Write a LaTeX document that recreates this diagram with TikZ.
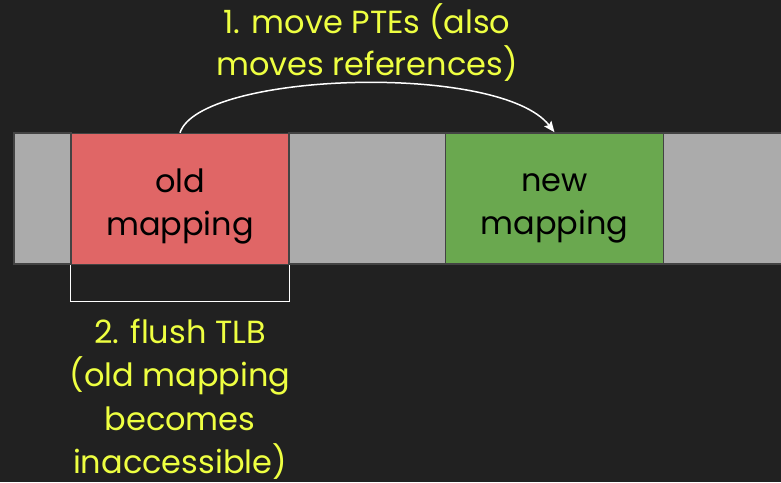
\documentclass[tikz,border=0pt]{standalone}
\usepackage{fontspec}
\setmainfont{Poppins}
\usetikzlibrary{arrows.meta}
\definecolor{bg}{HTML}{212121}
\definecolor{cellgray}{HTML}{ABABAB}
\definecolor{edge}{HTML}{434343}
\definecolor{oldred}{HTML}{E06666}
\definecolor{newgreen}{HTML}{6AA84F}
\definecolor{note}{HTML}{EEFF41}
% struts that centre a two-line label on a fixed pair of baselines
\newcommand\upstrut{\rule{0pt}{41pt}}
\newcommand\downstrut{\rule[-12pt]{0pt}{12pt}}
\tikzset{
  cell/.style={draw=edge, line width=1.5pt, fill=cellgray},
  mapbox/.style={draw=edge, line width=1.5pt, inner sep=0pt, align=center,
    minimum width=218pt, minimum height=131pt, text=black,
    font=\fontsize{32}{43}\selectfont},
  notetext/.style={text=note, align=center, inner sep=0pt, anchor=base},
  wire/.style={draw=white, line width=1.5pt},
}
\begin{document}
\begin{tikzpicture}[x=1pt,y=-1pt]
  % canvas
  \fill[bg] (0,0) rectangle (781,482);
  \useasboundingbox (0,0) rectangle (781,482);

  % address range strip
  \draw[cell] (14,133) rectangle (71,264);
  \draw[cell] (289,133) rectangle (446,264);
  \draw[cell] (663,133) rectangle (790,264);

  % the two mappings
  \node[mapbox, fill=oldred] (old) at (180,199) {\upstrut old\\mapping\downstrut};
  \node[mapbox, fill=newgreen] (new) at (554.5,198.5) {\upstrut new\\mapping\downstrut};

  % step 1: move the page table entries
  \draw[wire, -{Stealth[length=11pt, width=9pt, inset=2pt]}]
    (old.north) .. controls (200,72) and (500,62) .. (new.north);
  \node[notetext, font=\fontsize{32}{42}\selectfont] (step1) at (367,75)
    {1. move PTEs (also\\moves references)};

  % step 2: flush the TLB over the old range
  \draw[wire, line width=1.3pt] (old.south west) -- ++(0,36) coordinate (bl)
    -- (bl -| old.south east) -- (old.south east);
  \node[notetext, font=\fontsize{32}{43.5}\selectfont] (step2) at (180,473.5)
    {2. flush TLB\\(old mapping\\becomes\\inaccessible)};
\end{tikzpicture}
\end{document}
